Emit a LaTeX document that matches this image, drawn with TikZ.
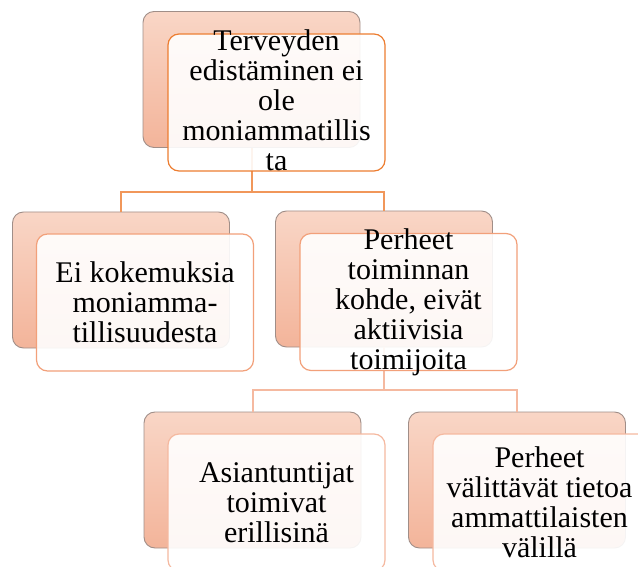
\documentclass[tikz,border=0pt]{standalone}
\usepackage{fontspec}
\setmainfont{Liberation Serif}
\definecolor{backtop}{RGB}{249,214,198}
\definecolor{backbot}{RGB}{243,180,154}
\definecolor{backline}{RGB}{160,142,136}
\definecolor{orangeA}{RGB}{237,125,49}
\definecolor{orangeB}{RGB}{242,160,122}
\definecolor{orangeC}{RGB}{245,185,160}
\tikzset{
  backbox/.style={draw=backline, line width=0.9pt, rounded corners=11pt, top color=backtop, bottom color=backbot,
    minimum width=217pt, minimum height=136pt, inner sep=0pt},
  frontbox/.style={draw=#1, line width=1.2pt, rounded corners=11pt, fill=white, fill opacity=0.9,
    minimum width=217pt, minimum height=137pt, inner sep=0pt},
  boxtext/.style={align=center, inner sep=0pt, font=\rmfamily\fontsize{30}{30}\selectfont},
  linkA/.style={draw=orangeA!80, line width=2pt},
  linkB/.style={draw=orangeC, line width=2pt}
}
\begin{document}
\begin{tikzpicture}[x=1pt,y=1pt,yscale=-1]
\useasboundingbox (0,0) rectangle (638,567);
\clip (0,0) rectangle (638,567);

% back boxes
\node[backbox] (b1) at (251.5,79.5) {};
\node[backbox] (b2) at (121,280) {};
\node[backbox] (b3) at (384,279) {};
\node[backbox] (b4) at (252.5,480) {};
\node[backbox] (b5) at (517,480) {};

% connectors
\draw[linkA] (b1.south) -- ++(0,44) coordinate (j1) -| (b2.north);
\draw[linkA] (j1) -| (b3.north);
\draw[linkB] (b3.south) -- ++(0,43) coordinate (j2) -| (b4.north);
\draw[linkB] (j2) -| (b5.north);

% front boxes
\node[frontbox=orangeA] (f1) at ([shift={(25,23)}]b1) {};
\node[frontbox=orangeB] (f2) at ([shift={(24,22.5)}]b2) {};
\node[frontbox=orangeB] (f3) at ([shift={(24.5,23)}]b3) {};
\node[frontbox=orangeC] (f4) at ([shift={(24,22.5)}]b4) {};
\node[frontbox=orangeC] (f5) at ([shift={(24.5,22.5)}]b5) {};

% texts
\node[boxtext] (t1) at ([yshift=-2pt]f1) {Terveyden\\edistäminen ei\\ole\\moniammatillis\\ta};
\node[boxtext] (t2) at (f2) {Ei kokemuksia\\moniamma-\\tillisuudesta};
\node[boxtext] (t3) at (f3) {Perheet\\toiminnan\\kohde, eivät\\aktiivisia\\toimijoita};
\node[boxtext] (t4) at (f4) {Asiantuntijat\\toimivat\\erillisinä};
\node[boxtext] (t5) at ([xshift=-2pt]f5) {Perheet\\välittävät tietoa\\ammattilaisten\\välillä};

\end{tikzpicture}
\end{document}
